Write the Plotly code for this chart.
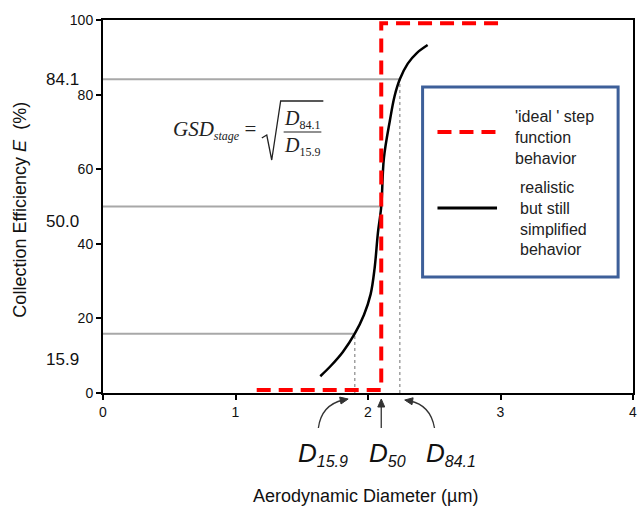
import math
import plotly.graph_objects as go

# ---------------- data ----------------
# 'ideal' step function
step_x = [1.16, 2.10, 2.10, 3.01]
step_y = [0.8, 0.8, 99.1, 99.1]

# realistic collection-efficiency curve
curve_x = [1.64, 1.72, 1.81, 1.90, 1.97, 2.02, 2.05, 2.075, 2.10, 2.12, 2.165, 2.20, 2.24, 2.30, 2.37, 2.45]
curve_y = [4.5, 7.3, 11.0, 15.9, 21.0, 26.5, 33.5, 43.0, 50.0, 63.0, 73.0, 79.5, 84.1, 88.3, 91.2, 93.3]

# characteristic levels and diameters
levels = [15.9, 50.0, 84.1]
level_labels = ["15.9", "50.0", "84.1"]
diameters = [1.90, 2.10, 2.24]
d_labels = ["15.9", "50", "84.1"]

x_ticks = [0, 1, 2, 3, 4]
y_ticks = [0, 20, 40, 60, 80, 100]

# ---------------- layout geometry ----------------
W_FIG, H_FIG = 641, 507
L, R, T, B = 103, 637, 20, 393
PW, PH = R - L, B - T


def px(x):
    return (x - L) / PW


def py(y):
    return (B - y) / PH


def arrowhead(tx, ty, dx, dy, length=8, half=3.5):
    n = math.hypot(dx, dy)
    ux, uy = dx / n, dy / n
    bx, by = tx - ux * length, ty - uy * length
    p1 = (bx - uy * half, by + ux * half)
    p2 = (bx + uy * half, by - ux * half)
    return dict(type="path", xref="paper", yref="paper",
                path="M %f,%f L %f,%f L %f,%f Z" % (px(tx), py(ty), px(p1[0]), py(p1[1]),
                                                  px(p2[0]), py(p2[1])),
                fillcolor="#333", line=dict(color="#333", width=1))


fig = go.Figure()

# gray horizontal reference lines
for lv, d in zip(levels, diameters):
    fig.add_trace(go.Scatter(x=[0, d], y=[lv, lv], mode="lines",
                             line=dict(color="#a8a8a8", width=2),
                             hoverinfo="skip", showlegend=False))

# gray dotted verticals at D15.9 and D84.1
for lv, d in zip([levels[0], levels[2]], [diameters[0], diameters[2]]):
    fig.add_trace(go.Scatter(x=[d, d], y=[0, lv], mode="lines",
                             line=dict(color="#a0a0a0", width=1.5, dash="dot"),
                             hoverinfo="skip", showlegend=False))

# realistic curve
fig.add_trace(go.Scatter(x=curve_x, y=curve_y, mode="lines",
                         line=dict(color="black", width=2.5, shape="spline"),
                         name="realistic but still simplified behavior",
                         showlegend=False))

# ideal step
fig.add_trace(go.Scatter(x=step_x, y=step_y, mode="lines",
                         line=dict(color="#ff0000", width=4, dash="14px,8px"),
                         name="'ideal ' step function behavior",
                         showlegend=False))

ann = []
shapes = []

# y-axis title
ann.append(dict(xref="paper", yref="paper", x=px(19), y=py(210),
                text="Collection Efficiency <i>E</i>  (%)", textangle=-90,
                showarrow=False, font=dict(size=18, color="#111"),
                xanchor="center", yanchor="middle"))
# x-axis title
ann.append(dict(xref="paper", yref="paper", x=px(367), y=py(496),
                text="Aerodynamic Diameter (µm)", showarrow=False,
                font=dict(size=18, color="#111"), xanchor="center", yanchor="middle"))

# level labels on the left
shifts = [-26, -15, 0]
for lv, lab, sh in zip(levels, level_labels, shifts):
    ann.append(dict(xref="paper", yref="y", x=px(81), y=lv, yshift=sh,
                    text=lab, showarrow=False, xanchor="right", yanchor="middle",
                    font=dict(size=17, color="#111")))

# D labels below the axis
d_centers = [325, 390, 454]
for lab, cx in zip(d_labels, d_centers):
    ann.append(dict(xref="paper", yref="paper", x=px(cx), y=py(454),
                    text="<i>D<sub><span style='font-size:16px'>%s</span></sub></i>" % lab,
                    showarrow=False, xanchor="center", yanchor="middle",
                    font=dict(size=26, color="#111")))

# arrows
shapes.append(dict(type="path", xref="paper", yref="paper",
                   path="M %f,%f Q %f,%f %f,%f" % (px(320), py(428), px(323), py(405), px(345), py(400)),
                   line=dict(color="#333", width=1.3)))
shapes.append(arrowhead(350, 399, 26, -5))
shapes.append(dict(type="path", xref="paper", yref="paper",
                   path="M %f,%f Q %f,%f %f,%f" % (px(437), py(428), px(433), py(405), px(412), py(401)),
                   line=dict(color="#333", width=1.3)))
shapes.append(arrowhead(407, 400, -25, -4))
shapes.append(dict(type="line", xref="x", yref="paper", x0=diameters[1], x1=diameters[1],
                   y0=py(428), y1=py(405), line=dict(color="#333", width=1.3)))
shapes.append(arrowhead(L + diameters[1] * PW / 4, 399, 0, -1))

# GSD formula
serif = "Liberation Serif, Times New Roman, serif"
ann.append(dict(xref="paper", yref="paper", x=px(259), y=py(130),
                text="<i>GSD<sub><span style='font-size:12px'>stage</span></sub></i> =",
                showarrow=False, xanchor="right", yanchor="middle",
                font=dict(size=21, family=serif, color="#222")))
ann.append(dict(xref="paper", yref="paper", x=px(304), y=py(120),
                text="<i>D</i><sub><span style='font-size:12px'>84.1</span></sub>",
                showarrow=False, xanchor="center", yanchor="middle",
                font=dict(size=20, family=serif, color="#222")))
ann.append(dict(xref="paper", yref="paper", x=px(304), y=py(146),
                text="<i>D</i><sub><span style='font-size:12px'>15.9</span></sub>",
                showarrow=False, xanchor="center", yanchor="middle",
                font=dict(size=20, family=serif, color="#222")))
shapes.append(dict(type="path", xref="paper", yref="paper",
                   path="M %f,%f L %f,%f L %f,%f L %f,%f L %f,%f" % (
                       px(263), py(138), px(268), py(135), px(273), py(160),
                       px(282), py(101), px(325), py(101)),
                   line=dict(color="#222", width=1.3)))
shapes.append(dict(type="line", xref="paper", yref="paper",
                   x0=px(285), x1=px(323), y0=py(132), y1=py(132),
                   line=dict(color="#222", width=1.2)))

# legend box (drawn manually)
shapes.append(dict(type="rect", xref="paper", yref="paper",
                   x0=px(425), x1=px(622), y0=py(277), y1=py(87),
                   line=dict(color="#3d5f99", width=3), fillcolor="white", layer="above"))
shapes.append(dict(type="line", xref="paper", yref="paper",
                   x0=px(440), x1=px(500), y0=py(132), y1=py(132), layer="above",
                   line=dict(color="#ff0000", width=4, dash="14px,8px")))
shapes.append(dict(type="line", xref="paper", yref="paper",
                   x0=px(440), x1=px(500), y0=py(208), y1=py(208), layer="above",
                   line=dict(color="black", width=3)))
ann.append(dict(xref="paper", yref="paper", x=px(516), y=py(137),
                text="'ideal ' step<br>function<br>behavior", align="left",
                showarrow=False, xanchor="left", yanchor="middle",
                font=dict(size=16, color="#222")))
ann.append(dict(xref="paper", yref="paper", x=px(521), y=py(218),
                text="realistic<br>but still<br>simplified<br>behavior", align="left",
                showarrow=False, xanchor="left", yanchor="middle",
                font=dict(size=16, color="#222")))

fig.update_layout(
    width=W_FIG, height=H_FIG,
    margin=dict(l=L, r=W_FIG - R, t=T, b=H_FIG - B, pad=0),
    paper_bgcolor="white", plot_bgcolor="white",
    font=dict(family="Liberation Sans, Arial, sans-serif", color="#111", size=14),
    showlegend=False,
    hovermode=False,
    annotations=ann, shapes=shapes,
    xaxis=dict(range=[0, 4], tickvals=x_ticks, ticktext=[str(v) for v in x_ticks],
               showgrid=False, zeroline=False, showline=True, linecolor="black",
               linewidth=2, mirror=True, ticks="outside", ticklen=5, tickwidth=1.5,
               tickcolor="black", tickfont=dict(size=14)),
    yaxis=dict(range=[0, 100], tickvals=y_ticks, ticktext=[str(v) for v in y_ticks],
               showgrid=False, zeroline=False, showline=True, linecolor="black",
               linewidth=2, mirror=True, ticks="outside", ticklen=5, tickwidth=1.5,
               tickcolor="black", tickfont=dict(size=14)),
)

fig.write_html("out.html", config={"displayModeBar": False},
               post_script="document.body.style.margin='0px';")
